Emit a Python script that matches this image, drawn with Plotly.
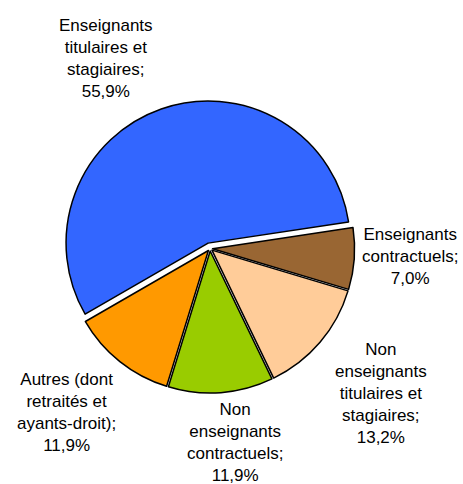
import plotly.graph_objects as go

labels = [
    "Enseignants<br>titulaires et<br>stagiaires",
    "Enseignants<br>contractuels",
    "Non<br>enseignants<br>titulaires et<br>stagiaires",
    "Non<br>enseignants<br>contractuels",
    "Autres (dont<br>retraités et<br>ayants-droit)",
]
values = [55.9, 7.0, 13.2, 11.9, 11.9]
colors = ["#3366FF", "#996633", "#FFCC99", "#99CC00", "#FF9900"]
pulls = [0.04, 0.018, 0.018, 0.018, 0.018]

# label anchor positions (pixels from top-left)
label_x = [106, 410, 381, 235, 66]
label_y = [58, 256, 393, 442, 412]

W, H = 463, 484

fig = go.Figure(go.Pie(
    labels=labels,
    values=values,
    sort=False,
    direction="clockwise",
    rotation=240,
    pull=pulls,
    marker=dict(colors=colors, line=dict(color="black", width=1.5)),
    textinfo="none",
    hoverinfo="label+percent",
    showlegend=False,
    domain=dict(x=[0.1345, 0.7726], y=[0.1814, 0.7918]),
))

annotations = []
for lab, v, x, y in zip(labels, values, label_x, label_y):
    txt = f"{lab};<br>" + f"{v:.1f}".replace(".", ",") + "%"
    annotations.append(dict(
        x=x / W, y=1 - y / H, xref="paper", yref="paper",
        text=txt, showarrow=False, xanchor="center", yanchor="middle",
        align="center",
        font=dict(family="Liberation Sans, Arial, sans-serif", size=17, color="black"),
    ))

fig.update_layout(
    width=W, height=H,
    margin=dict(l=0, r=0, t=0, b=0),
    paper_bgcolor="white",
    plot_bgcolor="white",
    annotations=annotations,
)

fig.write_html("out.html", config={"displayModeBar": False},
               post_script="document.body.style.margin='0px';")
